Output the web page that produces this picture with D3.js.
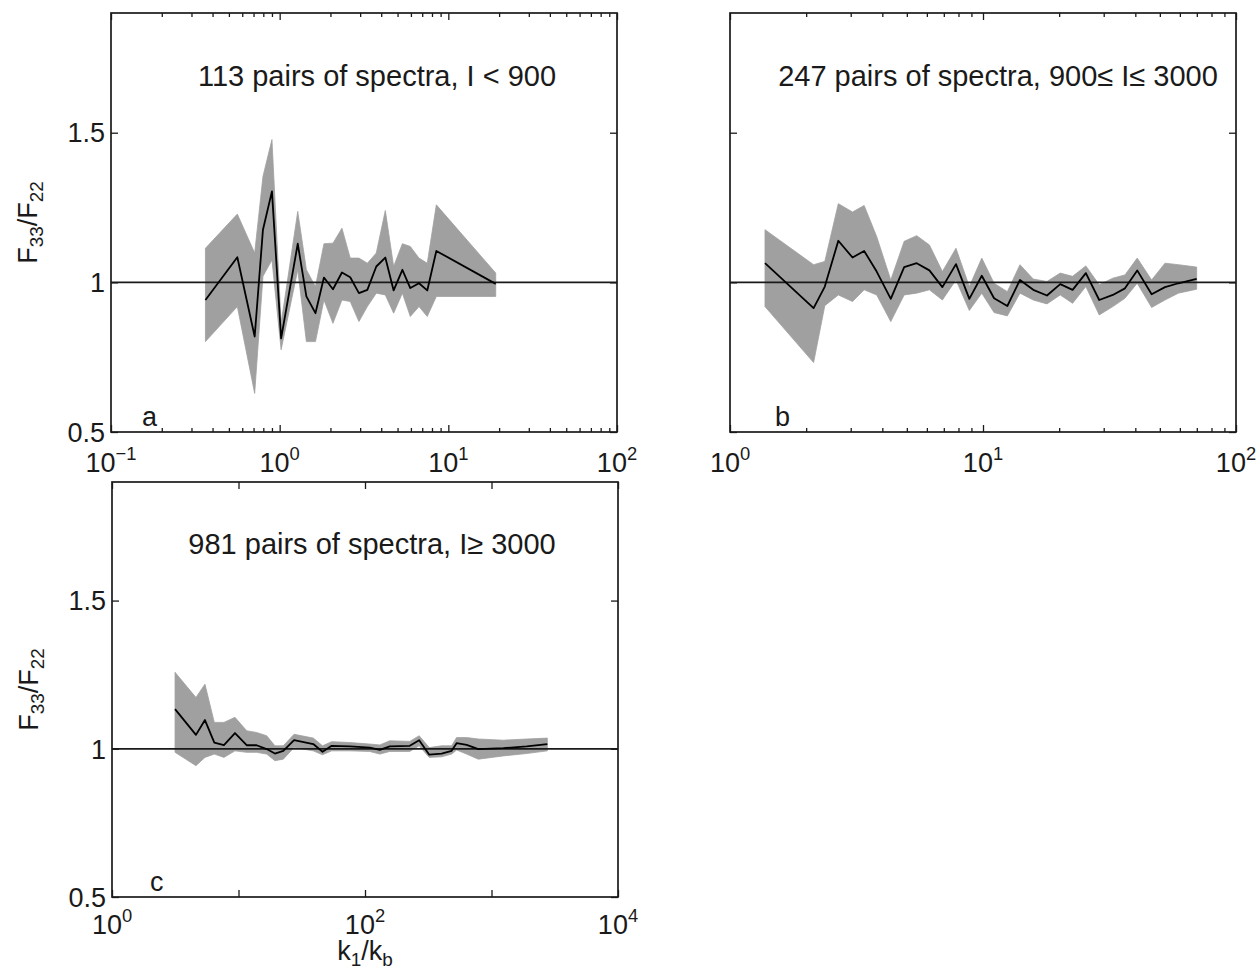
<!DOCTYPE html>
<html>
<head>
<meta charset="utf-8">
<script src="https://cdn.jsdelivr.net/npm/d3@7"></script>
<style>
  html, body { margin: 0; padding: 0; background: #fff; }
  svg { display: block; font-family: "Liberation Sans", Arial, Helvetica, sans-serif; }
</style>
</head>
<body>
<svg id="fig" width="1260" height="969"></svg>
<script>
// ---- Panel a: 113 pairs of spectra, I < 900 ----
const kA = [0.363, 0.561, 0.711, 0.796, 0.900, 1.02, 1.28, 1.44, 1.63, 1.83, 2.07, 2.34,
            2.62, 2.95, 3.31, 3.74, 4.23, 4.74, 5.34, 5.95, 6.70, 7.50, 8.49, 19.1];
const meanA = [0.941, 1.084, 0.819, 1.176, 1.304, 0.813, 1.129, 0.953, 0.897, 1.016, 0.977, 1.033,
               1.017, 0.964, 0.975, 1.053, 1.083, 0.973, 1.042, 0.981, 0.997, 0.973, 1.105, 0.995];
const upperA = [1.114, 1.228, 1.098, 1.354, 1.477, 0.863, 1.237, 1.042, 0.986, 1.129, 1.131, 1.181,
                1.081, 1.081, 1.064, 1.098, 1.240, 1.053, 1.129, 1.120, 1.081, 1.064, 1.259, 1.031];
const lowerA = [0.802, 0.919, 0.629, 1.020, 1.075, 0.775, 1.042, 0.802, 0.802, 0.941, 0.863, 0.941,
                0.936, 0.869, 0.919, 0.964, 0.958, 0.897, 0.964, 0.886, 0.919, 0.886, 0.953, 0.953];

// ---- Panel b: 247 pairs of spectra, 900 <= I <= 3000 ----
const kB = [1.375, 2.14, 2.37, 2.68, 3.05, 3.39, 3.80, 4.32, 4.88, 5.47, 6.14, 6.91, 7.82, 8.83,
            9.89, 11.06, 12.48, 14.0, 15.8, 17.9, 20.2, 22.6, 25.5, 28.8, 32.6, 36.4, 40.7,
            46.4, 52.4, 59.2, 69.9];
const meanB = [1.064, 0.914, 0.986, 1.139, 1.083, 1.105, 1.036, 0.945, 1.051, 1.064, 1.040, 0.984,
               1.061, 0.945, 1.022, 0.947, 0.921, 1.008, 0.975, 0.956, 0.994, 0.975, 1.031, 0.941,
               0.958, 0.980, 1.040, 0.960, 0.984, 0.997, 1.012];
const upperB = [1.176, 1.059, 1.070, 1.263, 1.235, 1.257, 1.153, 1.008, 1.137, 1.156, 1.125, 1.036,
                1.114, 0.986, 1.081, 0.997, 0.969, 1.059, 1.011, 1.003, 1.031, 1.020, 1.055, 0.992,
                1.014, 1.025, 1.081, 1.008, 1.064, 1.059, 1.051];
const lowerB = [0.919, 0.732, 0.922, 0.958, 0.936, 0.975, 0.958, 0.869, 0.958, 0.964, 0.975, 0.941,
                1.008, 0.906, 0.964, 0.899, 0.888, 0.964, 0.941, 0.928, 0.958, 0.930, 0.986, 0.891,
                0.919, 0.947, 0.997, 0.916, 0.941, 0.964, 0.977];

// ---- Panel c: 981 pairs of spectra, I >= 3000 ----
const kC = [3.15, 4.61, 5.43, 6.44, 7.67, 9.38, 11.6, 13.9, 16.7, 19.4, 22.6, 27.5, 39.0, 46.2,
            54.5, 76.0, 109, 131, 157, 226, 268, 322, 403, 484, 530, 636, 787, 1240, 1896, 2763];
const meanC = [1.134, 1.047, 1.097, 1.021, 1.012, 1.053, 1.012, 1.012, 0.999, 0.984, 0.993, 1.029,
               1.016, 0.990, 1.010, 1.008, 1.004, 0.996, 1.008, 1.010, 1.029, 0.980, 0.984, 0.993,
               1.019, 1.013, 0.999, 1.002, 1.008, 1.016];
const upperC = [1.258, 1.173, 1.218, 1.089, 1.089, 1.106, 1.061, 1.055, 1.044, 1.010, 1.010, 1.049,
                1.036, 1.010, 1.024, 1.021, 1.016, 1.013, 1.027, 1.025, 1.044, 1.004, 1.010, 1.010,
                1.038, 1.038, 1.033, 1.029, 1.033, 1.036];
const lowerC = [0.988, 0.943, 0.971, 0.982, 0.971, 0.993, 0.988, 0.988, 0.982, 0.960, 0.965, 1.004,
                0.993, 0.980, 0.993, 0.993, 0.991, 0.982, 0.991, 0.991, 1.010, 0.971, 0.973, 0.982,
                0.996, 0.982, 0.965, 0.976, 0.984, 0.993];

// ---- Axis ticks and labels ----
const yDomain = [0.5, 1.9];
const yTickValues = [0.5, 1, 1.5];
const yTickLabels = ["0.5", "1", "1.5"];
const xDecadesA = [-1, 0, 1, 2];
const xDecadesB = [0, 1, 2];
const xDecadesC = [0, 1, 2, 3, 4];
const xLabelledC = [0, 2, 4];
const titles = ["113 pairs of spectra, I < 900",
                "247 pairs of spectra, 900\u2264 I\u2264 3000",
                "981 pairs of spectra, I\u2265 3000"];
const letters = ["a", "b", "c"];

const svg = d3.select("#fig");
const BAND = "#a0a0a0";
const INK = "#1a1a1a";
const FS = 27;
const TITLE_FS = 29;

function rows(k, m, lo, hi) {
  return k.map((v, i) => ({ k: v, m: m[i], lo: lo[i], hi: hi[i] }));
}

function drawPanel(cfg) {
  const w = cfg.right - cfg.left, h = cfg.bottom - cfg.top;
  const g = svg.append("g").attr("transform", `translate(${cfg.left},${cfg.top})`);
  const x = d3.scaleLog().domain([10 ** cfg.decades[0], 10 ** cfg.decades[cfg.decades.length - 1]]).range([0, w]);
  const y = d3.scaleLinear().domain(yDomain).range([h, 0]);
  const data = rows(cfg.k, cfg.mean, cfg.lower, cfg.upper);

  // spread band
  g.append("path").datum(data)
    .attr("d", d3.area().x(d => x(d.k)).y0(d => y(d.lo)).y1(d => y(d.hi)))
    .attr("fill", BAND).attr("stroke", BAND).attr("stroke-width", 0.8);

  // reference line at 1
  g.append("line").attr("x1", 0).attr("x2", w).attr("y1", y(1)).attr("y2", y(1))
    .attr("stroke", INK).attr("stroke-width", 1.7);

  // mean ratio
  g.append("path").datum(data)
    .attr("d", d3.line().x(d => x(d.k)).y(d => y(d.m)))
    .attr("fill", "none").attr("stroke", "#000").attr("stroke-width", 1.8)
    .attr("stroke-linejoin", "round");

  // inward ticks on all four sides
  const majors = cfg.decades.map(e => 10 ** e);
  const minors = [];
  if (cfg.minor) {
    for (let i = 0; i < cfg.decades.length - 1; i++)
      for (let m = 2; m <= 9; m++) minors.push(m * 10 ** cfg.decades[i]);
  }
  const strip = sel => { sel.select(".domain").remove(); sel.selectAll("line").attr("stroke", INK).attr("stroke-width", 1.3); };
  g.append("g").attr("transform", `translate(0,${h})`).call(d3.axisBottom(x).tickValues(majors).tickSize(-7).tickFormat("")).call(strip);
  g.append("g").call(d3.axisTop(x).tickValues(majors).tickSize(-7).tickFormat("")).call(strip);
  if (minors.length) {
    g.append("g").attr("transform", `translate(0,${h})`).call(d3.axisBottom(x).tickValues(minors).tickSize(-4).tickFormat("")).call(strip);
    g.append("g").call(d3.axisTop(x).tickValues(minors).tickSize(-4).tickFormat("")).call(strip);
  }
  g.append("g").call(d3.axisLeft(y).tickValues(yTickValues).tickSize(-7).tickFormat("")).call(strip);
  g.append("g").attr("transform", `translate(${w},0)`).call(d3.axisRight(y).tickValues(yTickValues).tickSize(-7).tickFormat("")).call(strip);

  // frame
  g.append("rect").attr("x", 0).attr("y", 0).attr("width", w).attr("height", h)
    .attr("fill", "none").attr("stroke", INK).attr("stroke-width", 1.7);

  // y tick labels
  if (cfg.yLabels) {
    g.selectAll(".ytl").data(yTickValues).enter().append("text")
      .attr("x", -6).attr("y", d => y(d)).attr("dy", "0.36em")
      .attr("text-anchor", "end").attr("font-size", FS).attr("fill", INK)
      .text((d, i) => yTickLabels[i]);
  }

  // x tick labels as powers of ten
  const labelled = cfg.labelled || cfg.decades;
  labelled.forEach(e => {
    const t = g.append("text").attr("x", x(10 ** e)).attr("y", h + cfg.xLabelOffset)
      .attr("text-anchor", "middle").attr("font-size", FS).attr("fill", INK);
    t.append("tspan").text("10");
    t.append("tspan").attr("font-size", FS * 0.68).attr("dy", -12).text(e < 0 ? "\u2212" + (-e) : String(e));
  });

  // title and panel letter
  g.append("text").attr("x", cfg.titleX - cfg.left).attr("y", cfg.titleY - cfg.top)
    .attr("text-anchor", "middle").attr("font-size", TITLE_FS).attr("fill", INK).text(cfg.title);
  g.append("text").attr("x", cfg.letterX).attr("y", h - 6)
    .attr("font-size", FS).attr("fill", INK).text(cfg.letter);

  // y axis label F33/F22
  if (cfg.yLabels) {
    const yl = svg.append("text")
      .attr("transform", `translate(${cfg.left - 74},${(cfg.top + cfg.bottom) / 2}) rotate(-90)`)
      .attr("text-anchor", "middle").attr("font-size", FS).attr("fill", INK);
    yl.append("tspan").text("F");
    yl.append("tspan").attr("font-size", FS * 0.7).attr("dy", 6).text("33");
    yl.append("tspan").attr("dy", -6).text("/F");
    yl.append("tspan").attr("font-size", FS * 0.7).attr("dy", 6).text("22");
  }
  return { x, y, g, w, h };
}

drawPanel({ left: 111, right: 617, top: 13, bottom: 432, decades: xDecadesA, minor: true,
            k: kA, mean: meanA, upper: upperA, lower: lowerA, yLabels: true, xLabelOffset: 40,
            title: titles[0], titleX: 377, titleY: 86, letter: letters[0], letterX: 31 });
drawPanel({ left: 730, right: 1236, top: 13, bottom: 432, decades: xDecadesB, minor: true,
            k: kB, mean: meanB, upper: upperB, lower: lowerB, yLabels: false, xLabelOffset: 40,
            title: titles[1], titleX: 998, titleY: 86, letter: letters[1], letterX: 45 });
drawPanel({ left: 112, right: 618, top: 482, bottom: 897, decades: xDecadesC, minor: false,
            labelled: xLabelledC, xLabelOffset: 37,
            k: kC, mean: meanC, upper: upperC, lower: lowerC, yLabels: true,
            title: titles[2], titleX: 372, titleY: 554, letter: letters[2], letterX: 38 });

// x axis label k1/kb under panel c
const xl = svg.append("text").attr("x", 365).attr("y", 960)
  .attr("text-anchor", "middle").attr("font-size", FS).attr("fill", INK);
xl.append("tspan").text("k");
xl.append("tspan").attr("font-size", FS * 0.7).attr("dy", 6).text("1");
xl.append("tspan").attr("dy", -6).text("/k");
xl.append("tspan").attr("font-size", FS * 0.7).attr("dy", 6).text("b");
</script>
</body>
</html>
